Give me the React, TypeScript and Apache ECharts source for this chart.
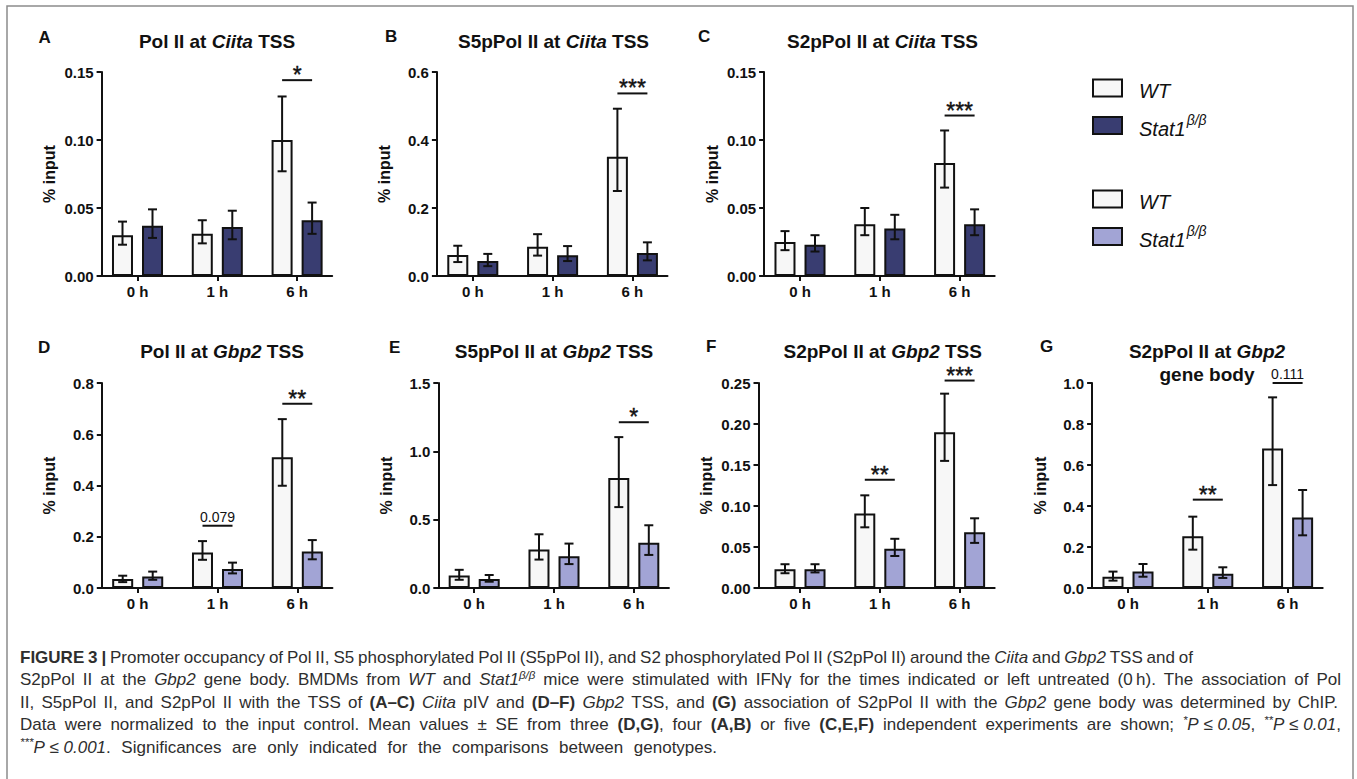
import React, { useEffect, useRef } from 'react';
import * as echarts from 'echarts';

const timePoints = ['0 h', '1 h', '6 h'];

// Panel A – Pol II at Ciita TSS
const aWtMean = [0.030, 0.031, 0.100];
const aWtLow = [0.023, 0.024, 0.077];
const aWtHigh = [0.040, 0.041, 0.132];
const aKoMean = [0.037, 0.036, 0.041];
const aKoLow = [0.028, 0.027, 0.031];
const aKoHigh = [0.049, 0.048, 0.054];
const aSig = [[2, 0.144, '*']];

// Panel B – S5pPol II at Ciita TSS
const bWtMean = [0.062, 0.086, 0.351];
const bWtLow = [0.041, 0.060, 0.250];
const bWtHigh = [0.089, 0.123, 0.492];
const bKoMean = [0.044, 0.061, 0.068];
const bKoLow = [0.029, 0.044, 0.046];
const bKoHigh = [0.065, 0.088, 0.099];
const bSig = [[2, 0.537, '***']];

// Panel C – S2pPol II at Ciita TSS
const cWtMean = [0.025, 0.038, 0.083];
const cWtLow = [0.019, 0.030, 0.065];
const cWtHigh = [0.033, 0.050, 0.107];
const cKoMean = [0.023, 0.035, 0.038];
const cKoLow = [0.018, 0.027, 0.030];
const cKoHigh = [0.030, 0.045, 0.049];
const cSig = [[2, 0.118, '***']];

// Panel D – Pol II at Gbp2 TSS
const dWtMean = [0.035, 0.139, 0.510];
const dWtLow = [0.023, 0.110, 0.399];
const dWtHigh = [0.048, 0.183, 0.659];
const dKoMean = [0.045, 0.074, 0.142];
const dKoLow = [0.032, 0.057, 0.112];
const dKoHigh = [0.064, 0.099, 0.187];
const dSig = [[1, 0.243, '0.079'], [2, 0.719, '**']];

// Panel E – S5pPol II at Gbp2 TSS
const eWtMean = [0.092, 0.281, 0.805];
const eWtLow = [0.060, 0.208, 0.592];
const eWtHigh = [0.133, 0.393, 1.104];
const eKoMean = [0.065, 0.233, 0.332];
const eKoLow = [0.046, 0.175, 0.242];
const eKoHigh = [0.095, 0.325, 0.459];
const eSig = [[2, 1.213, '*']];

// Panel F – S2pPol II at Gbp2 TSS
const fWtMean = [0.023, 0.091, 0.190];
const fWtLow = [0.018, 0.074, 0.155];
const fWtHigh = [0.029, 0.113, 0.237];
const fKoMean = [0.023, 0.048, 0.068];
const fKoLow = [0.019, 0.039, 0.055];
const fKoHigh = [0.029, 0.060, 0.085];
const fSig = [[1, 0.132, '**'], [2, 0.253, '***']];

// Panel G – S2pPol II at Gbp2 gene body
const gWtMean = [0.055, 0.252, 0.681];
const gWtLow = [0.036, 0.187, 0.502];
const gWtHigh = [0.080, 0.348, 0.930];
const gKoMean = [0.081, 0.070, 0.344];
const gKoLow = [0.055, 0.049, 0.257];
const gKoHigh = [0.117, 0.101, 0.478];
const gSig = [[1, 0.431, '**'], [2, 1.0, '0.111']];

// y-axis tick settings: max, step, decimals
const yMaxes = [0.15, 0.6, 0.15, 0.8, 1.5, 0.25, 1.0];
const ySteps = [0.05, 0.2, 0.05, 0.2, 0.5, 0.05, 0.2];
const yDecimals = [2, 1, 2, 1, 1, 2, 1];

const FONT = "'Liberation Sans', Arial, Helvetica, sans-serif";
const INK = '#111111';
const CAP_INK = '#2e2e2e';
const WT_FILL = '#f7f7f7';
const DARK = '#393d71';
const LIGHT = '#a2a4d5';
const SP = 79.8;
const BAR_OFF = 15;

const panels = [
  { letter: 'A', title: '{b|Pol II at }{bi|Ciita}{b| TSS}', c0: 137.5, top: 72, h: 204, xMin: -0.45, ko: DARK,
    wt: [aWtMean, aWtLow, aWtHigh], kd: [aKoMean, aKoLow, aKoHigh], sig: aSig, lx: 38.5, ly: 37, tx: 217, ty: 41 },
  { letter: 'B', title: '{b|S5pPol II at }{bi|Ciita}{b| TSS}', c0: 472.8, top: 72, h: 204, xMin: -0.45, ko: DARK,
    wt: [bWtMean, bWtLow, bWtHigh], kd: [bKoMean, bKoLow, bKoHigh], sig: bSig, lx: 385, ly: 36, tx: 553.5, ty: 41 },
  { letter: 'C', title: '{b|S2pPol II at }{bi|Ciita}{b| TSS}', c0: 800, top: 72, h: 204, xMin: -0.45, ko: DARK,
    wt: [cWtMean, cWtLow, cWtHigh], kd: [cKoMean, cKoLow, cKoHigh], sig: cSig, lx: 698, ly: 36, tx: 882.5, ty: 41 },
  { letter: 'D', title: '{b|Pol II at }{bi|Gbp2}{b| TSS}', c0: 137.7, top: 383, h: 205, xMin: -0.45, ko: LIGHT,
    wt: [dWtMean, dWtLow, dWtHigh], kd: [dKoMean, dKoLow, dKoHigh], sig: dSig, lx: 38, ly: 347, tx: 222, ty: 351 },
  { letter: 'E', title: '{b|S5pPol II at }{bi|Gbp2}{b| TSS}', c0: 474.2, top: 383, h: 205, xMin: -0.45, ko: LIGHT,
    wt: [eWtMean, eWtLow, eWtHigh], kd: [eKoMean, eKoLow, eKoHigh], sig: eSig, lx: 389, ly: 347, tx: 554, ty: 351 },
  { letter: 'F', title: '{b|S2pPol II at }{bi|Gbp2}{b| TSS}', c0: 800, top: 383, h: 205, xMin: -0.52, ko: LIGHT,
    wt: [fWtMean, fWtLow, fWtHigh], kd: [fKoMean, fKoLow, fKoHigh], sig: fSig, lx: 706, ly: 346, tx: 882.7, ty: 351 },
  { letter: 'G', title: '{b|S2pPol II at }{bi|Gbp2}\n{b|gene body}', c0: 1128, top: 383, h: 205, xMin: -0.45, ko: LIGHT,
    wt: [gWtMean, gWtLow, gWtHigh], kd: [gKoMean, gKoLow, gKoHigh], sig: gSig, lx: 1040, ly: 346, tx: 1207, ty: 363 },
];

const X_MAX = 2.44;

function errorSeries(i: number, low: number[], high: number[], offset: number) {
  return {
    type: 'custom',
    xAxisIndex: i,
    yAxisIndex: i,
    z: 5,
    silent: true,
    data: low.map((l, k) => [k, l, high[k]]),
    encode: { x: 0, y: [1, 2] },
    renderItem: (params: any, api: any) => {
      const x = api.value(0);
      const lo = api.coord([x, api.value(1)]);
      const hi = api.coord([x, api.value(2)]);
      const cx = lo[0] + offset;
      const st = { stroke: INK, lineWidth: 2 };
      return {
        type: 'group',
        children: [
          { type: 'line', shape: { x1: cx, y1: hi[1], x2: cx, y2: lo[1] }, style: st },
          { type: 'line', shape: { x1: cx - 4.5, y1: hi[1], x2: cx + 4.5, y2: hi[1] }, style: st },
          { type: 'line', shape: { x1: cx - 4.5, y1: lo[1], x2: cx + 4.5, y2: lo[1] }, style: st },
        ],
      };
    },
  };
}

function sigSeries(i: number, sig: any[]) {
  return {
    type: 'custom',
    xAxisIndex: i,
    yAxisIndex: i,
    z: 6,
    silent: true,
    clip: false,
    data: sig.map((s) => [s[0], s[1]]),
    encode: { x: 0, y: 1 },
    renderItem: (params: any, api: any) => {
      const p = api.coord([api.value(0), api.value(1)]);
      const lab = sig[params.dataIndex][2] as string;
      const stars = lab.startsWith('*');
      return {
        type: 'group',
        children: [
          { type: 'line', shape: { x1: p[0] - BAR_OFF, y1: p[1], x2: p[0] + BAR_OFF, y2: p[1] }, style: { stroke: INK, lineWidth: 2 } },
          {
            type: 'text',
            x: p[0],
            y: stars ? p[1] - 5 : p[1] - 9,
            style: {
              text: lab,
              align: 'center',
              verticalAlign: 'middle',
              fontSize: stars ? 23 : 14,
              fontFamily: FONT,
              fill: INK,
              stroke: stars ? INK : 'none',
              lineWidth: stars ? 0.4 : 0,
            },
          },
        ],
      };
    },
  };
}

const NB = '\u00a0';
const captionLines = [
  '{b|FIGURE 3 |} Promoter occupancy of Pol II, S5 phosphorylated Pol II (S5pPol II), and S2 phosphorylated Pol II (S2pPol II) around the {i|Ciita} and {i|Gbp2} TSS and of',
  'S2pPol II at the {i|Gbp2} gene body. BMDMs from {i|WT} and {i|Stat1}{sup|β/β} mice were stimulated with IFNγ for the times indicated or left untreated (0\u2009h). The association of Pol',
  'II, S5pPol II, and S2pPol II with the TSS of {b|(A–C)} {i|Ciita} pIV and {b|(D–F)} {i|Gbp2} TSS, and {b|(G)} association of S2pPol II with the {i|Gbp2} gene body was determined by ChIP.',
  `Data were normalized to the input control. Mean values ± SE from three {b|(D,G)}, four {b|(A,B)} or five {b|(C,E,F)} independent experiments are shown; {sup|*}{i|P${NB}≤${NB}0.05}, {sup|**}{i|P${NB}≤${NB}0.01},`,
  `{sup|***}{i|P${NB}≤${NB}0.001}. Significances are only indicated for the comparisons between genotypes.`,
];
const captionEnds = [1193, 1341, 1338, 1341, 717];
const CAP_X = 20;
const CAP_Y0 = 657;
const CAP_DY = 22.5;
const CAP_SIZE = 17;

const capRich: any = {
  r: { fontSize: CAP_SIZE, fontFamily: FONT, fill: CAP_INK, lineHeight: 22 },
  b: { fontSize: CAP_SIZE, fontWeight: 'bold', fontFamily: FONT, fill: CAP_INK, lineHeight: 22 },
  i: { fontSize: CAP_SIZE, fontStyle: 'italic', fontFamily: FONT, fill: CAP_INK, lineHeight: 22 },
  sup: { fontSize: 11.5, fontStyle: 'italic', fontFamily: FONT, fill: CAP_INK, lineHeight: 22, verticalAlign: 'top' },
};

function parseRuns(line: string) {
  const runs: { s: string; t: string }[] = [];
  const re = /\{(\w+)\|([^}]*)\}/g;
  let last = 0;
  let m: RegExpExecArray | null;
  while ((m = re.exec(line))) {
    if (m.index > last) runs.push({ s: 'r', t: line.slice(last, m.index) });
    runs.push({ s: m[1], t: m[2] });
    last = re.lastIndex;
  }
  if (last < line.length) runs.push({ s: 'r', t: line.slice(last) });
  return runs;
}

function splitWords(runs: { s: string; t: string }[]) {
  const words: { s: string; t: string }[][] = [[]];
  runs.forEach((r) => {
    const parts = r.t.split(' ');
    parts.forEach((p, idx) => {
      if (idx > 0) words.push([]);
      if (p) words[words.length - 1].push({ s: r.s, t: p });
    });
  });
  return words.filter((w) => w.length > 0);
}

export default function App() {
  const ref = useRef<HTMLDivElement>(null);

  useEffect(() => {
    if (!ref.current) return;
    const chart = echarts.init(ref.current, undefined, { renderer: 'svg' });

    const grids: any[] = [];
    const xAxes: any[] = [];
    const yAxes: any[] = [];
    const series: any[] = [];
    const graphics: any[] = [];

    panels.forEach((p, i) => {
      const left = p.c0 + p.xMin * SP;
      const width = (X_MAX - p.xMin) * SP;
      grids.push({ left, top: p.top, width, height: p.h, containLabel: false });
      xAxes.push({
        type: 'value',
        gridIndex: i,
        min: p.xMin,
        max: X_MAX,
        axisLine: { show: true, onZero: false, lineStyle: { color: INK, width: 2 } },
        axisTick: { show: true, customValues: [0, 1, 2], length: 5, lineStyle: { color: INK, width: 2 } },
        axisLabel: {
          customValues: [0, 1, 2],
          formatter: (v: number) => timePoints[Math.round(v)] ?? '',
          fontWeight: 'bold',
          fontSize: 15,
          fontFamily: FONT,
          color: INK,
          margin: 8,
        },
        splitLine: { show: false },
      });
      yAxes.push({
        type: 'value',
        gridIndex: i,
        min: 0,
        max: yMaxes[i],
        interval: ySteps[i],
        axisLine: { show: true, onZero: false, lineStyle: { color: INK, width: 2 } },
        axisTick: { show: true, length: 5, lineStyle: { color: INK, width: 2 } },
        axisLabel: {
          formatter: (v: number) => v.toFixed(yDecimals[i]),
          fontWeight: 'bold',
          fontSize: 15,
          fontFamily: FONT,
          color: INK,
          margin: 8,
        },
        splitLine: { show: false },
        name: '% input',
        nameLocation: 'middle',
        nameGap: 44,
        nameTextStyle: { fontWeight: 'bold', fontSize: 16, fontFamily: FONT, color: INK },
      });
      series.push({
        type: 'bar',
        name: 'WT',
        xAxisIndex: i,
        yAxisIndex: i,
        data: p.wt[0].map((v, k) => [k, v]),
        barWidth: 21,
        barGap: '43%',
        itemStyle: { color: WT_FILL, borderColor: INK, borderWidth: 2 },
        z: 2,
      });
      series.push({
        type: 'bar',
        name: 'Stat1',
        xAxisIndex: i,
        yAxisIndex: i,
        data: p.kd[0].map((v, k) => [k, v]),
        barWidth: 21,
        barGap: '43%',
        itemStyle: { color: p.ko, borderColor: INK, borderWidth: 2 },
        z: 2,
      });
      series.push(errorSeries(i, p.wt[1], p.wt[2], -BAR_OFF));
      series.push(errorSeries(i, p.kd[1], p.kd[2], BAR_OFF));
      series.push(sigSeries(i, p.sig));

      graphics.push({
        type: 'text',
        x: p.lx,
        y: p.ly,
        style: { text: p.letter, fontSize: 17, fontWeight: 'bold', fontFamily: FONT, fill: INK, align: 'left', verticalAlign: 'middle' },
      });
      graphics.push({
        type: 'text',
        x: p.tx,
        y: p.ty,
        style: {
          text: p.title,
          align: 'center',
          verticalAlign: 'middle',
          fill: INK,
          fontFamily: FONT,
          fontSize: 19,
          fontWeight: 'bold',
          lineHeight: 23,
          rich: {
            b: { fontSize: 19, fontWeight: 'bold', fontFamily: FONT, fill: INK, lineHeight: 23 },
            bi: { fontSize: 19, fontWeight: 'bold', fontStyle: 'italic', fontFamily: FONT, fill: INK, lineHeight: 23 },
          },
        },
      });
    });

    // legends
    const legendItems = [
      { y: 88, fill: WT_FILL, text: '{i|WT}' },
      { y: 125.5, fill: DARK, text: '{i|Stat1}{s|β/β}' },
      { y: 199, fill: WT_FILL, text: '{i|WT}' },
      { y: 236.5, fill: LIGHT, text: '{i|Stat1}{s|β/β}' },
    ];
    legendItems.forEach((it) => {
      graphics.push({
        type: 'rect',
        shape: { x: 1093, y: it.y - 8.5, width: 29, height: 17 },
        style: { fill: it.fill, stroke: INK, lineWidth: 2 },
      });
      graphics.push({
        type: 'text',
        x: 1139,
        y: it.y,
        style: {
          text: it.text,
          align: 'left',
          verticalAlign: 'middle',
          fontFamily: FONT,
          fill: INK,
          rich: {
            i: { fontSize: 20, fontStyle: 'italic', fontFamily: FONT, fill: INK, lineHeight: 26, verticalAlign: 'bottom' },
            s: { fontSize: 14, fontStyle: 'italic', fontFamily: FONT, fill: INK, lineHeight: 26, verticalAlign: 'top', padding: [0, 0, 0, 1] },
          },
        },
      });
    });

    // caption, justified word by word
    const ctx = document.createElement('canvas').getContext('2d') as CanvasRenderingContext2D;
    const measure = (t: string, s: string) => {
      const st = capRich[s];
      ctx.font = `${st.fontStyle || 'normal'} ${st.fontWeight || 'normal'} ${st.fontSize}px ${FONT}`;
      return ctx.measureText(t).width;
    };
    captionLines.forEach((line, k) => {
      const words = splitWords(parseRuns(line));
      const widths = words.map((w) => w.reduce((acc, r) => acc + measure(r.t, r.s), 0));
      const total = widths.reduce((a, b) => a + b, 0);
      const gap = words.length > 1 ? (captionEnds[k] - CAP_X - total) / (words.length - 1) : 0;
      let x = CAP_X;
      words.forEach((w, wi) => {
        graphics.push({
          type: 'text',
          x,
          y: CAP_Y0 + k * CAP_DY,
          silent: true,
          style: {
            text: w.map((r) => `{${r.s}|${r.t}}`).join(''),
            align: 'left',
            verticalAlign: 'middle',
            fontSize: CAP_SIZE,
            fontFamily: FONT,
            fill: CAP_INK,
            rich: capRich,
          },
        });
        x += widths[wi] + gap;
      });
    });

    // frame
    graphics.push({
      type: 'polyline',
      shape: { points: [[7, 779], [7, 6], [1353, 6], [1353, 779]] },
      style: { stroke: '#8c8c8c', lineWidth: 1.5, fill: 'none' },
      silent: true,
    });

    chart.setOption({
      animation: false,
      backgroundColor: '#ffffff',
      grid: grids,
      xAxis: xAxes,
      yAxis: yAxes,
      series,
      graphic: graphics,
    });

    return () => chart.dispose();
  }, []);

  return (
    <div
      ref={ref}
      style={{ position: 'absolute', left: 0, top: 0, width: 1357, height: 779, background: '#fff' }}
    />
  );
}
